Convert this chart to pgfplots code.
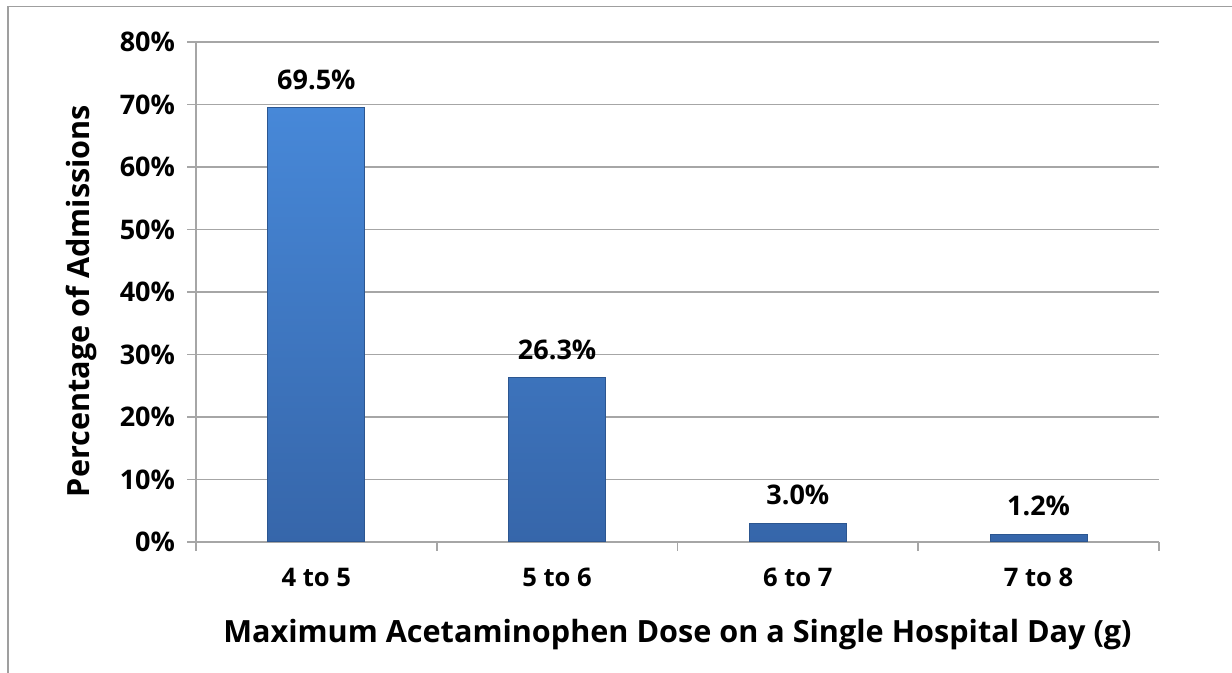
\documentclass[border=0pt]{standalone}
\usepackage{pgfplots}
\pgfplotsset{compat=1.18}
\usepackage{fontspec}
\setmainfont{Open Sans}
\definecolor{gridgray}{HTML}{A6A6A6}
\definecolor{bartop}{HTML}{4788D8}
\definecolor{barbot}{HTML}{3666AA}
\definecolor{baredge}{HTML}{2C5690}
\begin{document}
\begin{tikzpicture}
\path[use as bounding box] (0,0) rectangle (616pt,336.5pt);
\draw[gray!75, line width=0.8pt] (4pt,0) -- (4pt,333.25pt) -- (616pt,333.25pt);
\begin{axis}[
  at={(98pt,65.5pt)}, anchor=south west,
  scale only axis, width=481.5pt, height=250pt,
  xmin=-0.5, xmax=3.5, ymin=0, ymax=80,
  axis x line*=bottom, axis y line*=left,
  axis line style={-, draw=gridgray, line width=0.8pt},
  ytick={0,10,...,80},
  yticklabel={\pgfmathprintnumber{\tick}\%},
  ymajorgrids, grid style={draw=gridgray, line width=0.8pt},
  xtick={-0.5,0.5,1.5,2.5,3.5}, xticklabels={},
  extra x ticks={0,1,2,3},
  extra x tick labels={4 to 5, 5 to 6, 6 to 7, 7 to 8},
  extra x tick style={grid=none, major tick length=0pt},
  tick align=outside, major tick length=4.5pt,
  tick style={draw=gridgray, line width=0.8pt},
  /pgf/number format/assume math mode=true,
  yticklabel style={font=\fontsize{13.5}{15}\selectfont\bfseries, xshift=-2.5pt},
  xticklabel style={font=\fontsize{12.8}{15}\selectfont\bfseries, yshift=-9.5pt},
  ylabel={Percentage of Admissions},
  xlabel={Maximum Acetaminophen Dose on a Single Hospital Day (g)},
  label style={font=\fontsize{15.3}{17}\selectfont\bfseries},
  ylabel style={at={(axis description cs:-0.1185,0.482)}, anchor=center, rotate=0},
  xlabel style={yshift=-5pt},
  ybar, bar width=48.5pt,
  nodes near coords={\pgfmathprintnumber[fixed,fixed zerofill,precision=1]{\pgfplotspointmeta}\%},
  nodes near coords style={font=\fontsize{13.5}{15}\selectfont\bfseries, anchor=south, yshift=5.5pt, /pgf/number format/assume math mode=true},
]
\addplot[draw=baredge, line width=0.5pt, top color=bartop, bottom color=barbot] coordinates {(0,69.5) (1,26.3) (2,3.0) (3,1.2)};
\end{axis}
\end{tikzpicture}
\end{document}
